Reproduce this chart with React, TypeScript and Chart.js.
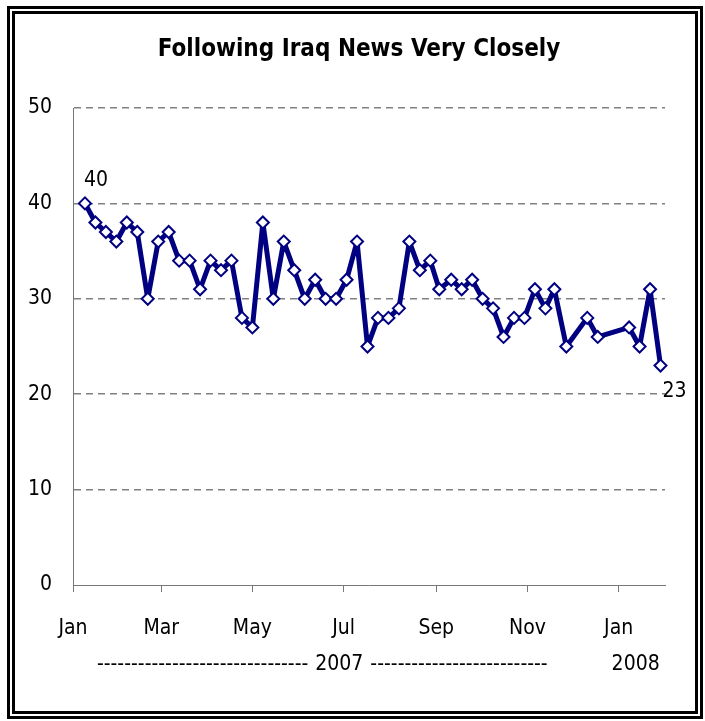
import { useEffect, useRef } from 'react';
import { Chart, registerables } from 'chart.js';

Chart.register(...registerables);

// Weekly News Interest Index readings: % following news about Iraq very closely
const surveyDates = [
  '2007-01-09', '2007-01-16', '2007-01-23', '2007-01-30', '2007-02-06', '2007-02-13',
  '2007-02-20', '2007-02-27', '2007-03-06', '2007-03-13', '2007-03-20', '2007-03-27',
  '2007-04-03', '2007-04-10', '2007-04-17', '2007-04-24', '2007-05-01', '2007-05-08',
  '2007-05-15', '2007-05-22', '2007-05-29', '2007-06-05', '2007-06-12', '2007-06-19',
  '2007-06-26', '2007-07-03', '2007-07-10', '2007-07-17', '2007-07-24', '2007-07-31',
  '2007-08-07', '2007-08-14', '2007-08-21', '2007-08-28', '2007-09-03', '2007-09-11',
  '2007-09-18', '2007-09-25', '2007-10-02', '2007-10-09', '2007-10-16', '2007-10-23',
  '2007-10-30', '2007-11-06', '2007-11-13', '2007-11-19', '2007-11-27', '2007-12-11',
  '2007-12-18', '2008-01-08', '2008-01-15', '2008-01-22', '2008-01-29',
];

const veryClosely = [
  40, 38, 37, 36, 38, 37,
  30, 36, 37, 34, 34, 31,
  34, 33, 34, 28, 27, 38,
  30, 36, 33, 30, 32, 30,
  30, 32, 36, 25, 28, 28,
  29, 36, 33, 34, 31, 32,
  31, 32, 30, 29, 26, 28,
  28, 31, 29, 31, 25, 28,
  26, 27, 25, 31, 23,
];

const tickDates = ['2007-01-01', '2007-03-01', '2007-05-01', '2007-07-01', '2007-09-01', '2007-11-01', '2008-01-01'];
const tickLabels = ['Jan', 'Mar', 'May', 'Jul', 'Sep', 'Nov', 'Jan'];
const axisEndDate = '2008-02-01';

const yearLabels = ['2007', '2008'];
const chartTitle = 'Following Iraq News Very Closely';

const FONT = "'DejaVu Sans Condensed', 'Liberation Sans', Arial, sans-serif";
const NAVY = '#000080';
const GRID = '#808080';

const ORIGIN = Date.UTC(2007, 0, 1);
const toDay = (iso: string) => {
  const [y, m, d] = iso.split('-').map(Number);
  return Math.round((Date.UTC(y, m - 1, d) - ORIGIN) / 86400000);
};

const textPlugin = {
  id: 'chartTexts',
  afterDraw(chart: any) {
    const { ctx, chartArea } = chart;
    ctx.save();
    ctx.fillStyle = '#000';

    // title
    ctx.font = `bold 24px ${FONT}`;
    ctx.textAlign = 'center';
    ctx.textBaseline = 'middle';
    ctx.fillText(chartTitle, 359, 50);

    // year row under the month labels
    ctx.font = `21px ${FONT}`;
    const yRow = chartArea.bottom + 80;
    const xs = chart.scales.x;
    const midYear = (xs.getPixelForValue(toDay('2007-05-01')) + xs.getPixelForValue(toDay('2007-09-01'))) / 2 - 5;
    const w2007 = ctx.measureText(yearLabels[0]).width;
    ctx.textAlign = 'center';
    ctx.fillText(yearLabels[0], midYear, yRow);
    ctx.textAlign = 'right';
    ctx.fillText('-------------------------------', midYear - w2007 / 2 - 7, yRow);
    ctx.textAlign = 'left';
    ctx.fillText('--------------------------', midYear + w2007 / 2 + 7, yRow);
    ctx.textAlign = 'center';
    ctx.fillText(yearLabels[1], xs.getPixelForValue(toDay('2008-01-01')) + 17, yRow);

    // end-point value labels
    const pts = chart.getDatasetMeta(0).data;
    const first = pts[0];
    const last = pts[pts.length - 1];
    ctx.font = `21px ${FONT}`;
    ctx.textAlign = 'center';
    ctx.fillText(String(veryClosely[0]), first.x + 11, first.y - 23);
    ctx.fillText(String(veryClosely[veryClosely.length - 1]), last.x + 14, last.y + 26);
    ctx.restore();
  },
};

export default function App() {
  const canvasRef = useRef<HTMLCanvasElement | null>(null);

  useEffect(() => {
    const canvas = canvasRef.current;
    if (!canvas) return;
    const points = surveyDates.map((d, i) => ({ x: toDay(d), y: veryClosely[i] }));
    const tickDays = tickDates.map(toDay);

    const chart = new Chart(canvas, {
      type: 'line',
      data: {
        datasets: [
          {
            data: points,
            borderColor: NAVY,
            borderWidth: 5,
            borderJoinStyle: 'round',
            borderCapStyle: 'round',
            tension: 0,
            pointStyle: 'rectRot',
            pointRadius: 6,
            pointBackgroundColor: '#ffffff',
            pointBorderColor: NAVY,
            pointBorderWidth: 2,
            clip: false as any,
          },
        ],
      },
      options: {
        responsive: false,
        animation: false,
        layout: { padding: { top: 108, right: 40, bottom: 0, left: 0 } },
        plugins: {
          legend: { display: false },
          tooltip: { enabled: false },
          title: { display: false },
        },
        scales: {
          x: {
            type: 'linear',
            min: 0,
            max: toDay(axisEndDate),
            afterBuildTicks: (scale: any) => {
              scale.ticks = tickDays.map((v) => ({ value: v }));
            },
            afterFit: (scale: any) => {
              scale.height = 136;
            },
            ticks: {
              autoSkip: false,
              maxRotation: 0,
              padding: 24,
              color: '#000',
              font: { family: FONT, size: 21 },
              callback: (_v: any, i: number) => tickLabels[i],
            },
            grid: {
              drawOnChartArea: false,
              drawTicks: true,
              tickLength: 7,
              tickColor: '#777',
              tickWidth: 1,
            },
            border: { display: true, color: '#777', width: 1 },
          },
          y: {
            min: 0,
            max: 50,
            afterFit: (scale: any) => {
              scale.width = 73;
            },
            ticks: {
              stepSize: 10,
              padding: 21,
              color: '#000',
              font: { family: FONT, size: 21 },
            },
            grid: {
              drawTicks: false,
              lineWidth: 1.5,
              color: (c: any) => (c.tick && c.tick.value === 0 ? 'rgba(0,0,0,0)' : GRID),
            },
            border: { display: true, color: '#777', width: 1, dash: [7, 5] },
          },
        },
      },
      plugins: [textPlugin],
    });
    return () => chart.destroy();
  }, []);

  return (
    <div style={{ position: 'absolute', left: 0, top: 0, width: 705, height: 721, background: '#fff' }}>
      <div
        style={{
          position: 'absolute',
          left: 7,
          top: 6,
          width: 696,
          height: 713,
          border: '8px double #000',
          boxSizing: 'border-box',
        }}
      />
      <canvas ref={canvasRef} width={705} height={721} style={{ position: 'absolute', left: 0, top: 0 }} />
    </div>
  );
}
